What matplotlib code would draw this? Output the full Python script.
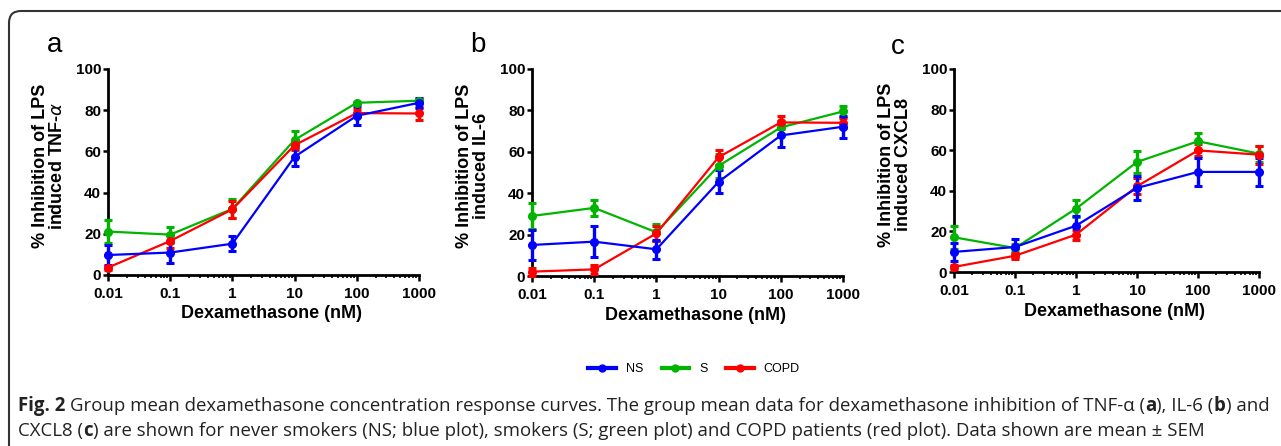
import matplotlib

matplotlib.use("Agg")
import matplotlib.pyplot as plt
from matplotlib.lines import Line2D
from matplotlib.patches import FancyBboxPatch
from matplotlib.ticker import FixedLocator, LogLocator, NullFormatter

dose = [0.01, 0.1, 1, 10, 100, 1000]
dose_labels = ["0.01", "0.1", "1", "10", "100", "1000"]
groups = ["NS", "S", "COPD"]
colors = {"NS": "#0000ff", "S": "#00b400", "COPD": "#ff0000"}

# panel a: TNF-alpha
tnf_mean = {
    "NS": [9.7, 10.9, 15.2, 57.4, 77.3, 83.6],
    "S": [21.1, 19.6, 32.1, 65.6, 83.6, 84.6],
    "COPD": [3.6, 16.5, 31.9, 63.0, 78.6, 78.4],
}
tnf_sem = {
    "NS": [4.9, 4.9, 3.6, 4.5, 4.6, 2.5],
    "S": [5.8, 3.9, 4.6, 4.5, 0.5, 1.0],
    "COPD": [1.0, 3.5, 4.0, 2.5, 2.0, 3.0],
}
# panel b: IL-6
il6_mean = {
    "NS": [15.0, 16.6, 12.9, 45.5, 67.9, 72.1],
    "S": [29.0, 32.9, 21.1, 53.2, 71.8, 79.5],
    "COPD": [2.1, 3.2, 20.6, 57.4, 74.2, 74.0],
}
il6_sem = {
    "NS": [7.3, 7.4, 4.5, 5.5, 5.7, 5.3],
    "S": [6.3, 3.7, 4.2, 5.7, 3.0, 2.6],
    "COPD": [2.0, 2.0, 3.5, 3.6, 3.0, 2.5],
}
# panel c: CXCL8
cxcl8_mean = {
    "NS": [9.9, 12.3, 22.8, 41.4, 49.3, 49.3],
    "S": [17.1, 11.8, 31.2, 54.2, 64.4, 58.3],
    "COPD": [2.5, 8.0, 18.4, 42.2, 59.9, 57.8],
}
cxcl8_sem = {
    "NS": [4.3, 3.9, 4.6, 6.0, 7.0, 7.0],
    "S": [5.7, 2.0, 4.3, 5.2, 4.1, 4.0],
    "COPD": [1.0, 1.5, 2.5, 4.0, 3.0, 4.5],
}

panels = [
    ("a", "% Inhibition of LPS\ninduced TNF-$\\alpha$", tnf_mean, tnf_sem),
    ("b", "% Inhibition of LPS\ninduced IL-6", il6_mean, il6_sem),
    ("c", "% Inhibition of LPS\ninduced CXCL8", cxcl8_mean, cxcl8_sem),
]
y_ticks = [0, 20, 40, 60, 80, 100]

caption_line1 = [
    ("Fig. 2", "bold", False),
    ("Group mean dexamethasone concentration response curves. The group mean data "
     "for dexamethasone inhibition of TNF-\u03b1 (", "normal", True),
    ("a", "bold", False),
    ("), IL-6 (", "normal", False),
    ("b", "bold", False),
    (") and", "normal", False),
]
caption_line2 = [
    ("CXCL8 (", "normal", False),
    ("c", "bold", False),
    (") are shown for never smokers (NS; blue plot), smokers (S; green plot) and "
     "COPD patients (red plot). Data shown are mean \u00b1 SEM", "normal", False),
]

W, H = 1281, 446
fig = plt.figure(figsize=(W / 100, H / 100), dpi=100)
plt.rcParams["font.family"] = ["Liberation Sans", "DejaVu Sans"]

# axes boxes in pixels: left, right, top, bottom
boxes = [(108, 419, 69, 275), (532, 843, 69, 276), (954, 1259, 69, 272)]
letter_pos = [(55, 45), (478, 45), (898, 47)]
xlabel_y = [313, 315, 311]

for (letter, ylabel, means, sems), (l, r, t, b), (lx, ly), xly in zip(
        panels, boxes, letter_pos, xlabel_y):
    ax = fig.add_axes([l / W, 1 - b / H, (r - l) / W, (b - t) / H])
    for g in ["S", "COPD", "NS"]:
        ax.errorbar(
            dose, means[g], yerr=sems[g], color=colors[g], lw=1.6, marker="o",
            ms=5.5, capsize=2.6, elinewidth=2.4, capthick=2.2, clip_on=False,
            zorder=3,
        )
    ax.set_xscale("log")
    ax.set_xlim(0.01, 1000)
    ax.set_ylim(0, 100)
    ax.xaxis.set_major_locator(FixedLocator(dose))
    ax.set_xticklabels(dose_labels)
    ax.xaxis.set_minor_locator(LogLocator(base=10, subs=range(2, 10)))
    ax.xaxis.set_minor_formatter(NullFormatter())
    ax.set_yticks(y_ticks)
    for s in ["top", "right"]:
        ax.spines[s].set_visible(False)
    for s in ["left", "bottom"]:
        ax.spines[s].set_linewidth(2.0)
    ax.tick_params(axis="y", length=3.5, width=1.8, pad=1.5, labelsize=11)
    ax.tick_params(axis="x", which="major", length=4, width=1.8, pad=4.5, labelsize=11)
    ax.tick_params(axis="x", which="minor", length=2.5, width=1.2)
    for lab in ax.get_xticklabels() + ax.get_yticklabels():
        lab.set_fontweight("bold")
    ax.set_ylabel(ylabel, fontsize=13, fontweight="bold", linespacing=1.05)
    ax.yaxis.label.set_va("center")
    ax.yaxis.set_label_coords(-59 / (r - l), 0.53)
    ax.set_xlabel("Dexamethasone (nM)", fontsize=13, fontweight="bold")
    ax.xaxis.label.set_va("center")
    ax.xaxis.set_label_coords(0.5 + 8 / (r - l), (b - xly) / (b - t))
    fig.text(lx / W, 1 - ly / H, letter, fontsize=20, ha="center", va="center")

handles = [
    Line2D([], [], color=colors[g], lw=3, marker="o", ms=5) for g in groups
]
fig.legend(handles, groups, loc="center", bbox_to_anchor=(694 / W, 1 - 369 / H),
           ncol=3, frameon=False, fontsize=9, handlelength=2.2, columnspacing=1.5,
           handletextpad=0.8)

# caption with mixed bold runs
renderer = fig.canvas.get_renderer()
cap_font = ["Open Sans", "DejaVu Sans"]


def run_width(text, weight, size):
    tt = fig.text(0, 0, text, fontsize=size, fontweight=weight, family=cap_font)
    w = tt.get_window_extent(renderer).width
    tt.remove()
    return w


def line_width(runs, size):
    sp = run_width("x x", "normal", size) - run_width("xx", "normal", size)
    return sum(run_width(tx, wt, size) + (sp if lead else 0) for tx, wt, lead in runs)


base = 10
cap_size = base * 1247 / line_width(caption_line1, base)


def draw_runs(runs, x, y, size):
    sp = run_width("x x", "normal", size) - run_width("xx", "normal", size)
    for tx, wt, lead in runs:
        if lead:
            x += sp
        tt = fig.text(x / W, 1 - y / H, tx, fontsize=size, fontweight=wt,
                      family=cap_font, va="center", color="#222222")
        x += tt.get_window_extent(renderer).width


draw_runs(caption_line1, 18, 406, cap_size)
draw_runs(caption_line2, 18, 431, cap_size)

border = FancyBboxPatch((9, -30), 1330, H - 11 + 30,
                        boxstyle="round,pad=0,rounding_size=12",
                        transform=None, fill=False, edgecolor="#333333", lw=1.5)
fig.patches.append(border)

fig.savefig("out.png", dpi=100, facecolor="white")
